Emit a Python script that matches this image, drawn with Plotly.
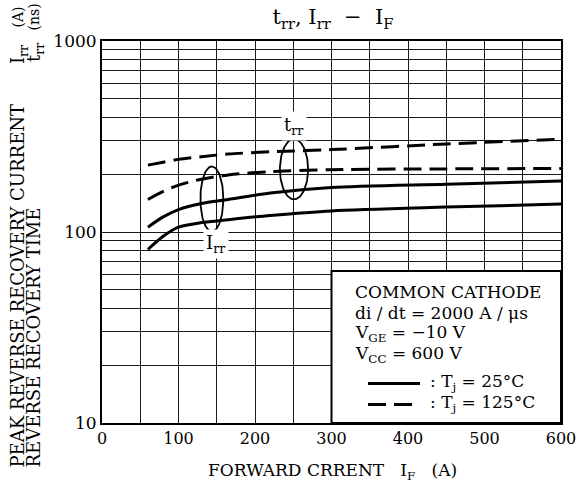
import numpy as np
import plotly.graph_objects as go

# ---------------- data ----------------
IF = [60, 80, 100, 130, 165, 220, 300, 450, 600]
trr_25 = [106, 120, 131, 141, 148, 160, 171, 178, 185]
irr_25 = [81, 95, 106, 112, 116, 122, 129, 135, 140]
irr_125 = [148, 163, 176, 189, 199, 207, 212, 214, 215]
trr_125 = [224, 232, 240, 248, 256, 263, 270, 289, 306]

x_ticks = [0, 100, 200, 300, 400, 500, 600]
y_ticks = [10, 100, 1000]
y_minor = [20, 30, 40, 50, 60, 70, 80, 90, 200, 300, 400, 500, 600, 700, 800, 900]

# group marker ellipses (centre x, centre log10 y, half-width, half-height in decades)
ell_irr = (143.6, 2.173, 15.0, 0.170)
ell_trr = (251.0, 2.329, 18.4, 0.158)

FONT = "DejaVu Serif"
fig = go.Figure()

for ys, dash in [(trr_25, "solid"), (irr_25, "solid"), (irr_125, "18px,8px"), (trr_125, "18px,8px")]:
    fig.add_trace(go.Scatter(x=IF, y=ys, mode="lines",
                             line=dict(color="black", width=3, dash=dash, shape="spline", smoothing=0.8),
                             hoverinfo="skip", showlegend=False))

t = np.linspace(0, 2 * np.pi, 100)
for cx, cly, rx, ry in [ell_irr, ell_trr]:
    fig.add_trace(go.Scatter(x=cx + rx * np.cos(t), y=10 ** (cly + ry * np.sin(t)), mode="lines",
                             line=dict(color="black", width=1.8), hoverinfo="skip", showlegend=False))

grid = dict(color="#1a1a1a", width=1)
fig.update_xaxes(range=[0, 600], tickvals=x_ticks, showgrid=True, gridcolor=grid["color"], gridwidth=grid["width"],
                 minor=dict(dtick=50, showgrid=True, gridcolor=grid["color"], gridwidth=grid["width"]),
                 showline=True, linewidth=2, linecolor="black", mirror=True, ticks="", zeroline=False,
                 ticklabeloverflow="allow", automargin=False,
                 tickfont=dict(family=FONT, size=16, color="black"))
fig.update_yaxes(type="log", range=[1, 3], tickvals=y_ticks, ticktext=[str(v) for v in y_ticks],
                 showgrid=True, gridcolor=grid["color"], gridwidth=grid["width"],
                 minor=dict(tickvals=y_minor, showgrid=True, gridcolor=grid["color"], gridwidth=grid["width"]),
                 showline=True, linewidth=2, linecolor="black", mirror=True, ticks="", zeroline=False,
                 ticklabeloverflow="allow", automargin=False,
                 tickfont=dict(family=FONT, size=17, color="black"))

# legend box
fig.add_shape(type="rect", xref="paper", yref="paper", x0=0.5, x1=1, y0=0, y1=0.398,
              fillcolor="white", line=dict(color="black", width=2), layer="above")

L_PX, R_PX = 102.0, 561.0

def px2x(px):
    return (px - L_PX) / (R_PX - L_PX)

def py2y(py):
    return (422.5 - py) / 381.5

legend_lines = ["COMMON CATHODE", "di / dt = 2000 A / μs", "V<sub>GE</sub> = −10 V", "V<sub>CC</sub> = 600 V"]
legend_y = [292, 313, 333, 354]
for txt, py in zip(legend_lines, legend_y):
    fig.add_annotation(text=txt, xref="paper", yref="paper", x=px2x(353), y=py2y(py), xanchor="left",
                       yanchor="middle", showarrow=False, font=dict(family=FONT, size=17, color="black"))

for py, dash, lab in [(383, "solid", ": T<sub>j</sub> = 25°C"), (404, "18px,8px", ": T<sub>j</sub> = 125°C")]:
    fig.add_shape(type="line", xref="paper", yref="paper", x0=px2x(368), x1=px2x(420), y0=py2y(py), y1=py2y(py),
                  line=dict(color="black", width=3, dash=dash), layer="above")
    fig.add_annotation(text=lab, xref="paper", yref="paper", x=px2x(428), y=py2y(py - 1), xanchor="left",
                       yanchor="middle", showarrow=False, font=dict(family=FONT, size=17, color="black"))

# group labels
fig.add_annotation(text="t<sub>rr</sub>", x=251, y=2.555, showarrow=False, bgcolor="white", borderpad=2,
                   font=dict(family=FONT, size=18, color="black"))
fig.add_annotation(text="I<sub>rr</sub>", x=149, y=1.937, showarrow=False, bgcolor="white", borderpad=2,
                   font=dict(family=FONT, size=18, color="black"))

# axis titles
fig.add_annotation(text="FORWARD CRRENT   I<sub>F</sub>   (A)", xref="paper", yref="paper", x=px2x(332), y=py2y(471),
                   xanchor="center", yanchor="middle", showarrow=False, font=dict(family=FONT, size=17, color="black"))
for px, main, sym, unit, sb, ub in [(18, "PEAK REVERSE RECOVERY CURRENT", "I<sub>rr</sub>", "(A)", 66, 30),
                                    (34, "REVERSE RECOVERY TIME", "t<sub>rr</sub>", "(ns)", 64, 33)]:
    fig.add_annotation(text=main, xref="paper", yref="paper", x=px2x(px), y=py2y(469), textangle=-90,
                       xanchor="center", yanchor="bottom", showarrow=False,
                       font=dict(family=FONT, size=18, color="black"))
    fig.add_annotation(text=sym, xref="paper", yref="paper", x=px2x(px + 1), y=py2y(sb), textangle=-90,
                       xanchor="center", yanchor="bottom", showarrow=False,
                       font=dict(family=FONT, size=18, color="black"))
    fig.add_annotation(text=unit, xref="paper", yref="paper", x=px2x(px), y=py2y(ub), textangle=-90,
                       xanchor="center", yanchor="bottom", showarrow=False,
                       font=dict(family=FONT, size=14, color="black"))

fig.update_layout(
    width=577, height=491,
    margin=dict(l=102, r=16, t=41, b=68, autoexpand=False),
    plot_bgcolor="white", paper_bgcolor="white",
    showlegend=False,
    title=dict(text="t<sub>rr</sub>, I<sub>rr</sub>  −  I<sub>F</sub>", xref="paper", x=px2x(333), xanchor="center",
               yref="container", y=1 - 17 / 491, yanchor="middle",
               font=dict(family=FONT, size=21, color="black")),
    font=dict(family=FONT, color="black"),
)

fig.write_html("out.html", config={"displayModeBar": False},
               post_script="document.body.style.margin='0';document.body.style.padding='0';")
